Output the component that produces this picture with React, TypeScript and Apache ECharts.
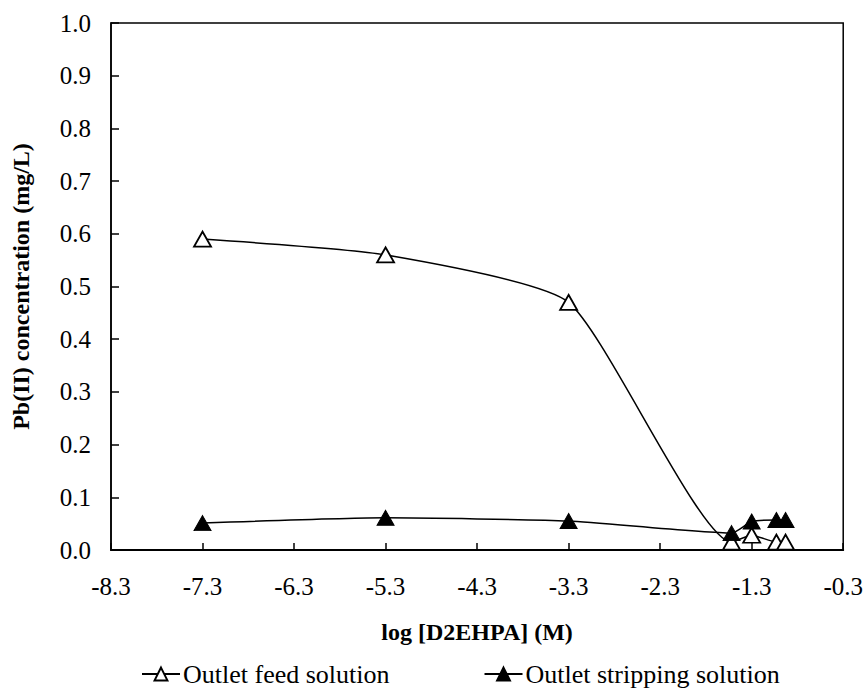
import React, { useEffect, useRef } from "react";
import * as echarts from "echarts";

const xValues = [-7.3, -5.3, -3.3, -1.52, -1.3, -1.03, -0.93];
const feedValues = [0.59, 0.56, 0.47, 0.015, 0.028, 0.015, 0.015];
const strippingValues = [0.051, 0.061, 0.055, 0.032, 0.054, 0.057, 0.057];
const seriesNames = ["Outlet feed solution", "Outlet stripping solution"];
const xTitle = "log [D2EHPA] (M)";
const yTitle = "Pb(II) concentration (mg/L)";

const FONT = "Times New Roman";

export default function App() {
  const ref = useRef<HTMLDivElement>(null);
  useEffect(() => {
    document.body.style.margin = "0";
    if (!ref.current) return;
    const chart = echarts.init(ref.current, undefined, { renderer: "svg" });
    const pair = (ys: number[]) => xValues.map((x, i) => [x, ys[i]]);
    chart.setOption({
      animation: false,
      backgroundColor: "#ffffff",
      textStyle: { fontFamily: FONT, color: "#000" },
      grid: {
        left: 111,
        right: 22,
        top: 23,
        bottom: 143,
        show: true,
        borderColor: "#000",
        borderWidth: 1.5,
        backgroundColor: "transparent",
      },
      legend: {
        bottom: 6,
        left: 141,
        padding: 0,
        itemGap: 94,
        itemWidth: 38,
        itemHeight: 16,
        textStyle: { fontFamily: FONT, fontSize: 26, color: "#000", padding: [0, 0, 0, -2] },
        data: seriesNames,
      },
      xAxis: {
        type: "value",
        min: -8.3,
        max: -0.3,
        interval: 1,
        name: xTitle,
        nameLocation: "middle",
        nameGap: 70,
        nameTextStyle: { fontFamily: FONT, fontSize: 24, fontWeight: "bold", color: "#000" },
        axisLine: { show: true, onZero: false, lineStyle: { color: "#000", width: 2 } },
        axisTick: { show: true, inside: true, length: 7, lineStyle: { color: "#000", width: 1.5 } },
        axisLabel: {
          fontFamily: FONT,
          fontSize: 25,
          color: "#000",
          margin: 24,
          formatter: (v: number) => v.toFixed(1),
        },
        splitLine: { show: false },
      },
      yAxis: {
        type: "value",
        min: 0,
        max: 1,
        interval: 0.1,
        name: yTitle,
        nameLocation: "middle",
        nameGap: 78,
        nameTextStyle: { fontFamily: FONT, fontSize: 24, fontWeight: "bold", color: "#000" },
        axisLine: { show: true, lineStyle: { color: "#000", width: 1.5 } },
        axisTick: { show: true, inside: true, length: 8, lineStyle: { color: "#000", width: 1.5 } },
        axisLabel: {
          fontFamily: FONT,
          fontSize: 25,
          color: "#000",
          margin: 20,
          formatter: (v: number) => v.toFixed(1),
        },
        splitLine: { show: false },
      },
      series: [
        {
          name: seriesNames[0],
          type: "line",
          data: pair(feedValues),
          smooth: 0.18,
          symbol: "triangle",
          symbolSize: [17, 15],
          lineStyle: { color: "#000", width: 1.5 },
          itemStyle: { color: "#fff", borderColor: "#000", borderWidth: 1.8 },
          z: 2,
        },
        {
          name: seriesNames[1],
          type: "line",
          data: pair(strippingValues),
          smooth: 0.18,
          symbol: "triangle",
          symbolSize: [17, 15],
          lineStyle: { color: "#000", width: 1.5 },
          itemStyle: { color: "#000", borderColor: "#000", borderWidth: 1 },
          z: 3,
        },
      ],
    });
    return () => chart.dispose();
  }, []);
  return <div ref={ref} style={{ width: 866, height: 693 }} />;
}
